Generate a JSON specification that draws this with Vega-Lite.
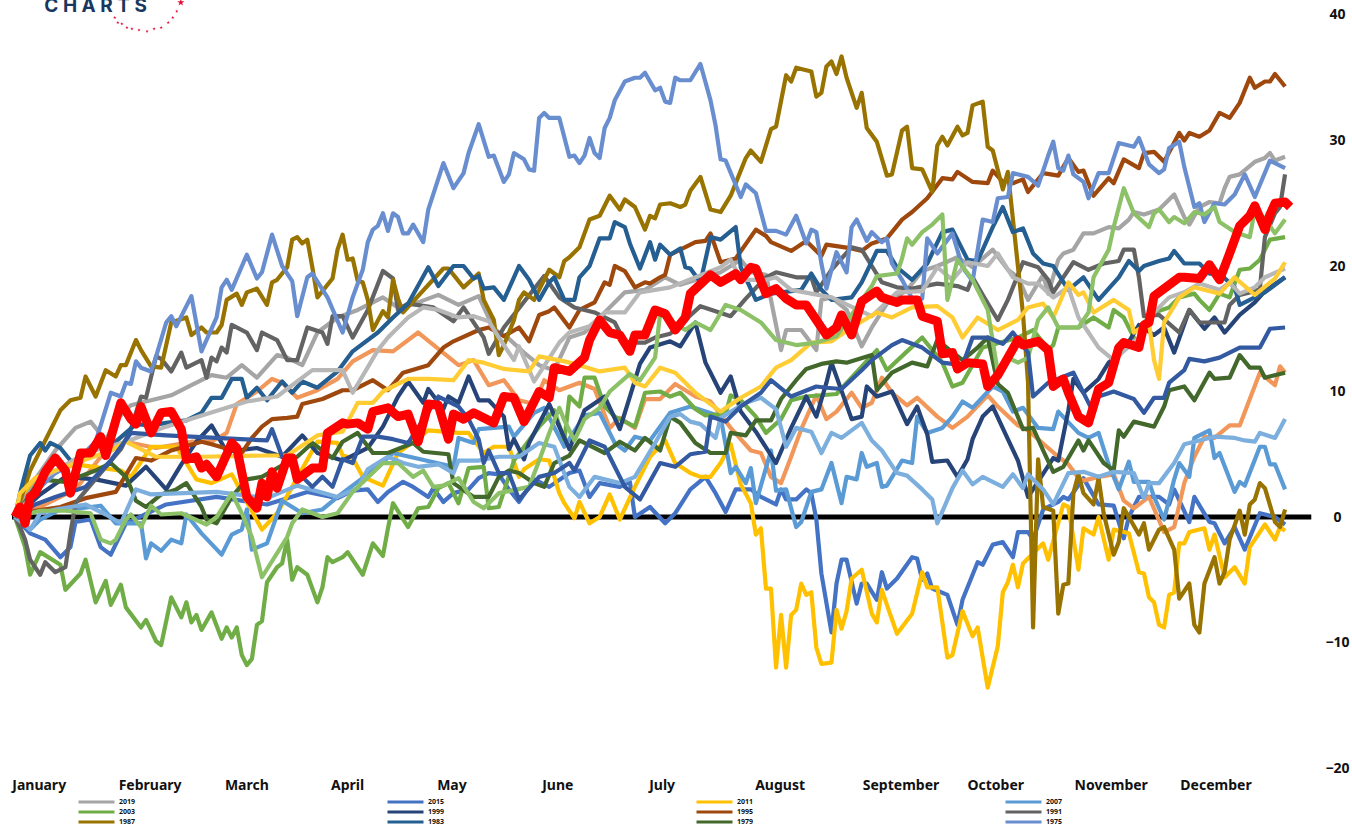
{"$schema":"https://vega.github.io/schema/vega-lite/v6.json","width":1352,"height":828,"autosize":"none","padding":0,"background":"white","config":{"view":{"stroke":null}},
"datasets":{
"zero":[{"a":-0.6,"b":257.2,"z":0}],
"months":[{"m":"January","d":4.8},{"m":"February","d":26.8},{"m":"March","d":46},{"m":"April","d":66},{"m":"May","d":86.7},{"m":"June","d":107.7},{"m":"July","d":128.4},{"m":"August","d":151.8},{"m":"September","d":175.8},{"m":"October","d":194.6},{"m":"November","d":217.5},{"m":"December","d":238.3}],
"logoText":[{"t":"C H A R T S","d":16,"v":40.2}],
"stars":[{"d":19.8,"v":39.8},{"d":20.4,"v":39.4},{"d":21.2,"v":39.3},{"d":22.2,"v":39},{"d":23.2,"v":38.9},{"d":24.6,"v":38.8},{"d":26.2,"v":38.7},{"d":27.6,"v":38.9},{"d":29,"v":39},{"d":30.4,"v":39.4},{"d":31.3,"v":39.8},{"d":32.1,"v":40.3}],
"bigStar":[{"d":32.9,"v":41}],
"years":[
{"s":"2015","d":0,"v":0},{"s":"2015","d":3,"v":-1.3},{"s":"2015","d":6,"v":-1.8},{"s":"2015","d":9,"v":-3.2},{"s":"2015","d":11,"v":-2.4},{"s":"2015","d":12,"v":-0.4},{"s":"2015","d":15,"v":-0.2},{"s":"2015","d":17,"v":-2.4},{"s":"2015","d":19,"v":-3},{"s":"2015","d":22,"v":-0.5},{"s":"2015","d":30,"v":1},{"s":"2015","d":40,"v":1.6},{"s":"2015","d":50,"v":1},{"s":"2015","d":58,"v":2},{"s":"2015","d":64,"v":1.5},{"s":"2015","d":67,"v":2.1},{"s":"2015","d":70,"v":2.2},{"s":"2015","d":72,"v":1.2},{"s":"2015","d":74,"v":2},{"s":"2015","d":77,"v":2.8},{"s":"2015","d":79,"v":2.4},{"s":"2015","d":82,"v":1.6},{"s":"2015","d":83,"v":2.3},{"s":"2015","d":85,"v":1.2},{"s":"2015","d":87,"v":1.9},{"s":"2015","d":90,"v":2.2},{"s":"2015","d":92,"v":3.1},{"s":"2015","d":94,"v":3.5},{"s":"2015","d":96,"v":3.4},{"s":"2015","d":98,"v":2.2},{"s":"2015","d":100,"v":1.2},{"s":"2015","d":103,"v":3},{"s":"2015","d":106,"v":2.4},{"s":"2015","d":110,"v":3.5},{"s":"2015","d":112,"v":3.7},{"s":"2015","d":114,"v":1.6},{"s":"2015","d":116,"v":2.7},{"s":"2015","d":120,"v":2.4},{"s":"2015","d":122,"v":2.8},{"s":"2015","d":123,"v":0},{"s":"2015","d":126,"v":0.8},{"s":"2015","d":129,"v":-0.5},{"s":"2015","d":131,"v":0.3},{"s":"2015","d":134,"v":2.2},{"s":"2015","d":137,"v":3.2},{"s":"2015","d":139,"v":1.9},{"s":"2015","d":141,"v":0.4},{"s":"2015","d":143,"v":2.2},{"s":"2015","d":146,"v":2.2},{"s":"2015","d":148,"v":1.6},{"s":"2015","d":151,"v":1},{"s":"2015","d":152,"v":2.2},{"s":"2015","d":153,"v":1.4},{"s":"2015","d":155,"v":1.4},{"s":"2015","d":157,"v":2.2},{"s":"2015","d":158,"v":1.9},{"s":"2015","d":159,"v":-0.2},{"s":"2015","d":160,"v":-4.5},{"s":"2015","d":162,"v":-9.2},{"s":"2015","d":163,"v":-5.3},{"s":"2015","d":164,"v":-3.4},{"s":"2015","d":165,"v":-3.4},{"s":"2015","d":167,"v":-6.9},{"s":"2015","d":168,"v":-5.3},{"s":"2015","d":169,"v":-5.3},{"s":"2015","d":171,"v":-6.6},{"s":"2015","d":172,"v":-4.4},{"s":"2015","d":173,"v":-5.7},{"s":"2015","d":175,"v":-4.9},{"s":"2015","d":178,"v":-3.2},{"s":"2015","d":179,"v":-3.3},{"s":"2015","d":180,"v":-5},{"s":"2015","d":181,"v":-4.5},{"s":"2015","d":182,"v":-5.7},{"s":"2015","d":185,"v":-6.2},{"s":"2015","d":187,"v":-8.6},{"s":"2015","d":188,"v":-6.6},{"s":"2015","d":191,"v":-3.6},{"s":"2015","d":192,"v":-3.8},{"s":"2015","d":194,"v":-2.2},{"s":"2015","d":196,"v":-2},{"s":"2015","d":198,"v":-3.2},{"s":"2015","d":199,"v":-1.2},{"s":"2015","d":201,"v":-1.2},{"s":"2015","d":202,"v":-1.8},{"s":"2015","d":204,"v":0.6},{"s":"2015","d":207,"v":1.2},{"s":"2015","d":208,"v":1.6},{"s":"2015","d":209,"v":1.4},{"s":"2015","d":212,"v":3.1},{"s":"2015","d":215,"v":1},{"s":"2015","d":218,"v":0.9},{"s":"2015","d":219,"v":-0.4},{"s":"2015","d":220,"v":-1.7},{"s":"2015","d":221,"v":0},{"s":"2015","d":223,"v":1.6},{"s":"2015","d":227,"v":1.6},{"s":"2015","d":229,"v":1},{"s":"2015","d":230,"v":2.2},{"s":"2015","d":233,"v":-0.4},{"s":"2015","d":234,"v":1.6},{"s":"2015","d":237,"v":-0.4},{"s":"2015","d":238,"v":-0.5},{"s":"2015","d":240,"v":-2.1},{"s":"2015","d":242,"v":-0.8},{"s":"2015","d":244,"v":-2.6},{"s":"2015","d":247,"v":0.3},{"s":"2015","d":250,"v":0},{"s":"2015","d":252,"v":-0.6},
{"s":"1971","d":0,"v":0},{"s":"1971","d":6,"v":1},{"s":"1971","d":12,"v":2.2},{"s":"1971","d":17,"v":4.8},{"s":"1971","d":22,"v":6},{"s":"1971","d":28,"v":5.5},{"s":"1971","d":35,"v":6},{"s":"1971","d":39,"v":6},{"s":"1971","d":42,"v":6.7},{"s":"1971","d":44,"v":9},{"s":"1971","d":48,"v":10},{"s":"1971","d":51,"v":11},{"s":"1971","d":53,"v":10.7},{"s":"1971","d":56,"v":9.5},{"s":"1971","d":60,"v":10.1},{"s":"1971","d":64,"v":11},{"s":"1971","d":67,"v":12.4},{"s":"1971","d":71,"v":13.3},{"s":"1971","d":75,"v":13.2},{"s":"1971","d":80,"v":14.7},{"s":"1971","d":84,"v":13.4},{"s":"1971","d":88,"v":12.1},{"s":"1971","d":91,"v":12.5},{"s":"1971","d":94,"v":10.5},{"s":"1971","d":97,"v":10.9},{"s":"1971","d":100,"v":9.3},{"s":"1971","d":103,"v":9},{"s":"1971","d":105,"v":10.9},{"s":"1971","d":108,"v":10.1},{"s":"1971","d":112,"v":10.7},{"s":"1971","d":115,"v":10.2},{"s":"1971","d":118,"v":7.1},{"s":"1971","d":120,"v":7.9},{"s":"1971","d":123,"v":7.1},{"s":"1971","d":125,"v":9.4},{"s":"1971","d":128,"v":9.4},{"s":"1971","d":131,"v":10.6},{"s":"1971","d":135,"v":9.6},{"s":"1971","d":138,"v":9.2},{"s":"1971","d":142,"v":7.1},{"s":"1971","d":146,"v":5.3},{"s":"1971","d":148,"v":5.1},{"s":"1971","d":150,"v":3.2},{"s":"1971","d":152,"v":2.7},{"s":"1971","d":154,"v":4.8},{"s":"1971","d":156,"v":7},{"s":"1971","d":159,"v":9.7},{"s":"1971","d":161,"v":7.8},{"s":"1971","d":163,"v":8.4},{"s":"1971","d":166,"v":9.9},{"s":"1971","d":168,"v":8.7},{"s":"1971","d":170,"v":9.1},{"s":"1971","d":172,"v":11.1},{"s":"1971","d":174,"v":9.9},{"s":"1971","d":177,"v":8.9},{"s":"1971","d":179,"v":9.5},{"s":"1971","d":183,"v":8},{"s":"1971","d":186,"v":7.1},{"s":"1971","d":189,"v":8},{"s":"1971","d":193,"v":9.7},{"s":"1971","d":195,"v":8.8},{"s":"1971","d":199,"v":7.3},{"s":"1971","d":201,"v":6.9},{"s":"1971","d":205,"v":5.5},{"s":"1971","d":207,"v":4.8},{"s":"1971","d":209,"v":4.2},{"s":"1971","d":211,"v":3.1},{"s":"1971","d":212,"v":2.9},{"s":"1971","d":215,"v":3.2},{"s":"1971","d":218,"v":3.4},{"s":"1971","d":220,"v":1.3},{"s":"1971","d":222,"v":0.7},{"s":"1971","d":225,"v":1.6},{"s":"1971","d":228,"v":-1.2},{"s":"1971","d":230,"v":-0.8},{"s":"1971","d":232,"v":2.7},{"s":"1971","d":234,"v":4.8},{"s":"1971","d":236,"v":6.4},{"s":"1971","d":238,"v":6.3},{"s":"1971","d":241,"v":7.3},{"s":"1971","d":243,"v":7.3},{"s":"1971","d":245,"v":9.4},{"s":"1971","d":247,"v":11.5},{"s":"1971","d":250,"v":10.5},{"s":"1971","d":251,"v":12},{"s":"1971","d":252,"v":11.5},
{"s":"2019","d":0,"v":0},{"s":"2019","d":4,"v":3},{"s":"2019","d":8,"v":5.3},{"s":"2019","d":12,"v":7.1},{"s":"2019","d":15,"v":7.6},{"s":"2019","d":18,"v":6.1},{"s":"2019","d":20,"v":7.7},{"s":"2019","d":23,"v":8.9},{"s":"2019","d":27,"v":9.3},{"s":"2019","d":31,"v":9.7},{"s":"2019","d":35,"v":10.5},{"s":"2019","d":39,"v":11.3},{"s":"2019","d":42,"v":11.1},{"s":"2019","d":45,"v":12.1},{"s":"2019","d":48,"v":11.1},{"s":"2019","d":52,"v":12.9},{"s":"2019","d":54,"v":12.7},{"s":"2019","d":57,"v":12.1},{"s":"2019","d":60,"v":14.7},{"s":"2019","d":64,"v":15.9},{"s":"2019","d":68,"v":16.5},{"s":"2019","d":73,"v":17.5},{"s":"2019","d":76,"v":16.7},{"s":"2019","d":80,"v":17.1},{"s":"2019","d":84,"v":17.7},{"s":"2019","d":88,"v":16.9},{"s":"2019","d":92,"v":17.6},{"s":"2019","d":95,"v":15},{"s":"2019","d":98,"v":14.2},{"s":"2019","d":101,"v":13.1},{"s":"2019","d":104,"v":12.1},{"s":"2019","d":107,"v":11.7},{"s":"2019","d":110,"v":14.3},{"s":"2019","d":113,"v":14.7},{"s":"2019","d":116,"v":15.9},{"s":"2019","d":121,"v":17.9},{"s":"2019","d":125,"v":18.1},{"s":"2019","d":129,"v":19.1},{"s":"2019","d":132,"v":18.5},{"s":"2019","d":140,"v":19.5},{"s":"2019","d":144,"v":20.5},{"s":"2019","d":146,"v":19.5},{"s":"2019","d":149,"v":19.3},{"s":"2019","d":152,"v":13.3},{"s":"2019","d":153,"v":14.9},{"s":"2019","d":156,"v":14.9},{"s":"2019","d":159,"v":13.3},{"s":"2019","d":160,"v":17.3},{"s":"2019","d":162,"v":17.5},{"s":"2019","d":165,"v":16.5},{"s":"2019","d":168,"v":13.6},{"s":"2019","d":170,"v":15.1},{"s":"2019","d":173,"v":17},{"s":"2019","d":177,"v":18.1},{"s":"2019","d":180,"v":19.6},{"s":"2019","d":183,"v":20},{"s":"2019","d":187,"v":20.7},{"s":"2019","d":190,"v":19.9},{"s":"2019","d":194,"v":21.3},{"s":"2019","d":197,"v":19.7},{"s":"2019","d":199,"v":19.1},{"s":"2019","d":201,"v":17.3},{"s":"2019","d":204,"v":19.3},{"s":"2019","d":205,"v":17.8},{"s":"2019","d":207,"v":20.5},{"s":"2019","d":208,"v":21},{"s":"2019","d":210,"v":21.3},{"s":"2019","d":212,"v":22.6},{"s":"2019","d":214,"v":22.6},{"s":"2019","d":217,"v":23.1},{"s":"2019","d":219,"v":23},{"s":"2019","d":221,"v":23.7},{"s":"2019","d":222,"v":24.3},{"s":"2019","d":224,"v":24.1},{"s":"2019","d":227,"v":24.5},{"s":"2019","d":230,"v":25.7},{"s":"2019","d":232,"v":23.9},{"s":"2019","d":233,"v":23.3},{"s":"2019","d":235,"v":24.7},{"s":"2019","d":237,"v":25.1},{"s":"2019","d":239,"v":25},{"s":"2019","d":240,"v":26.2},{"s":"2019","d":241,"v":27.1},{"s":"2019","d":243,"v":27.3},{"s":"2019","d":246,"v":28.3},{"s":"2019","d":248,"v":28.6},{"s":"2019","d":249,"v":29},{"s":"2019","d":250,"v":28.4},{"s":"2019","d":252,"v":28.7},
{"s":"2011","d":0,"v":0},{"s":"2011","d":1,"v":1.6},{"s":"2011","d":4,"v":3.1},{"s":"2011","d":12,"v":4.2},{"s":"2011","d":21,"v":3.7},{"s":"2011","d":23,"v":3.2},{"s":"2011","d":27,"v":5.6},{"s":"2011","d":32,"v":5.6},{"s":"2011","d":36,"v":3},{"s":"2011","d":39,"v":2.7},{"s":"2011","d":43,"v":3.4},{"s":"2011","d":49,"v":-1},{"s":"2011","d":52,"v":0.3},{"s":"2011","d":55,"v":2.4},{"s":"2011","d":60,"v":6},{"s":"2011","d":64,"v":5.9},{"s":"2011","d":65,"v":4.9},{"s":"2011","d":67,"v":4.7},{"s":"2011","d":69,"v":3.2},{"s":"2011","d":73,"v":2.5},{"s":"2011","d":76,"v":5.1},{"s":"2011","d":82,"v":6.9},{"s":"2011","d":88,"v":6.7},{"s":"2011","d":90,"v":6.7},{"s":"2011","d":93,"v":5.1},{"s":"2011","d":95,"v":5.6},{"s":"2011","d":98,"v":5.6},{"s":"2011","d":100,"v":3.2},{"s":"2011","d":101,"v":3.8},{"s":"2011","d":104,"v":4.6},{"s":"2011","d":106,"v":4.5},{"s":"2011","d":108,"v":1.9},{"s":"2011","d":109,"v":1.1},{"s":"2011","d":111,"v":-0.1},{"s":"2011","d":112,"v":1.2},{"s":"2011","d":114,"v":-0.5},{"s":"2011","d":116,"v":0},{"s":"2011","d":118,"v":1.8},{"s":"2011","d":120,"v":-0.2},{"s":"2011","d":123,"v":2.4},{"s":"2011","d":126,"v":4.8},{"s":"2011","d":129,"v":6.1},{"s":"2011","d":131,"v":4.3},{"s":"2011","d":134,"v":3.5},{"s":"2011","d":136,"v":3.2},{"s":"2011","d":138,"v":3.2},{"s":"2011","d":140,"v":4.3},{"s":"2011","d":142,"v":5.8},{"s":"2011","d":144,"v":2.6},{"s":"2011","d":146,"v":1.1},{"s":"2011","d":147,"v":-1.4},{"s":"2011","d":148,"v":-0.9},{"s":"2011","d":149,"v":-5.7},{"s":"2011","d":150,"v":-5.7},{"s":"2011","d":151,"v":-12},{"s":"2011","d":152,"v":-7.8},{"s":"2011","d":153,"v":-12},{"s":"2011","d":154,"v":-7.8},{"s":"2011","d":155,"v":-7.4},{"s":"2011","d":156,"v":-5.3},{"s":"2011","d":157,"v":-6.2},{"s":"2011","d":158,"v":-6},{"s":"2011","d":159,"v":-10.4},{"s":"2011","d":160,"v":-11.7},{"s":"2011","d":162,"v":-11.6},{"s":"2011","d":163,"v":-7.4},{"s":"2011","d":164,"v":-8.9},{"s":"2011","d":165,"v":-7.5},{"s":"2011","d":166,"v":-4.9},{"s":"2011","d":168,"v":-4.2},{"s":"2011","d":170,"v":-7.7},{"s":"2011","d":171,"v":-8.4},{"s":"2011","d":172,"v":-5.8},{"s":"2011","d":173,"v":-7},{"s":"2011","d":175,"v":-9.3},{"s":"2011","d":178,"v":-7.7},{"s":"2011","d":180,"v":-4.4},{"s":"2011","d":181,"v":-5.6},{"s":"2011","d":183,"v":-5.6},{"s":"2011","d":185,"v":-11.2},{"s":"2011","d":186,"v":-11},{"s":"2011","d":188,"v":-7.5},{"s":"2011","d":190,"v":-9.5},{"s":"2011","d":191,"v":-8.8},{"s":"2011","d":193,"v":-13.6},{"s":"2011","d":195,"v":-10.3},{"s":"2011","d":196,"v":-6},{"s":"2011","d":197,"v":-5.2},{"s":"2011","d":198,"v":-3.8},{"s":"2011","d":199,"v":-5.6},{"s":"2011","d":200,"v":-3.7},{"s":"2011","d":204,"v":-2.1},{"s":"2011","d":205,"v":-3.4},{"s":"2011","d":208,"v":1},{"s":"2011","d":209,"v":0.8},{"s":"2011","d":211,"v":-4.2},{"s":"2011","d":212,"v":-0.9},{"s":"2011","d":214,"v":-1.4},{"s":"2011","d":215,"v":0},{"s":"2011","d":217,"v":-3.4},{"s":"2011","d":218,"v":-1},{"s":"2011","d":221,"v":-1.3},{"s":"2011","d":223,"v":-4.4},{"s":"2011","d":224,"v":-4.5},{"s":"2011","d":225,"v":-6.4},{"s":"2011","d":226,"v":-6.8},{"s":"2011","d":227,"v":-8.6},{"s":"2011","d":228,"v":-8.8},{"s":"2011","d":229,"v":-6.2},{"s":"2011","d":230,"v":-6},{"s":"2011","d":231,"v":-2.1},{"s":"2011","d":232,"v":-2.1},{"s":"2011","d":233,"v":-1.2},{"s":"2011","d":236,"v":-0.9},{"s":"2011","d":237,"v":-2.6},{"s":"2011","d":238,"v":-1.4},{"s":"2011","d":240,"v":-4.8},{"s":"2011","d":242,"v":-4},{"s":"2011","d":244,"v":-5.3},{"s":"2011","d":245,"v":-2.4},{"s":"2011","d":248,"v":-0.6},{"s":"2011","d":250,"v":-1.8},{"s":"2011","d":251,"v":-0.8},{"s":"2011","d":252,"v":-1.1},
{"s":"2007","d":0,"v":0},{"s":"2007","d":3,"v":-1},{"s":"2007","d":5,"v":-0.2},{"s":"2007","d":10,"v":0.8},{"s":"2007","d":13,"v":0.7},{"s":"2007","d":17,"v":0.9},{"s":"2007","d":20,"v":-0.5},{"s":"2007","d":25,"v":-0.5},{"s":"2007","d":26,"v":-3.3},{"s":"2007","d":27,"v":-2.1},{"s":"2007","d":29,"v":-2.7},{"s":"2007","d":31,"v":-1.8},{"s":"2007","d":33,"v":-2.1},{"s":"2007","d":34,"v":0.2},{"s":"2007","d":37,"v":-1.3},{"s":"2007","d":41,"v":-3},{"s":"2007","d":43,"v":-1.4},{"s":"2007","d":45,"v":-1},{"s":"2007","d":46,"v":0.6},{"s":"2007","d":47,"v":-2.6},{"s":"2007","d":50,"v":-2.1},{"s":"2007","d":53,"v":1.3},{"s":"2007","d":57,"v":0.3},{"s":"2007","d":61,"v":0.6},{"s":"2007","d":64,"v":1.6},{"s":"2007","d":72,"v":4},{"s":"2007","d":75,"v":5.1},{"s":"2007","d":87,"v":4},{"s":"2007","d":88,"v":6.3},{"s":"2007","d":91,"v":5.9},{"s":"2007","d":92,"v":7},{"s":"2007","d":98,"v":7.2},{"s":"2007","d":99,"v":6.4},{"s":"2007","d":103,"v":8.3},{"s":"2007","d":105,"v":8.7},{"s":"2007","d":109,"v":5.6},{"s":"2007","d":113,"v":8.1},{"s":"2007","d":116,"v":8.3},{"s":"2007","d":119,"v":5.9},{"s":"2007","d":121,"v":5.3},{"s":"2007","d":123,"v":6.4},{"s":"2007","d":126,"v":6.1},{"s":"2007","d":130,"v":8.3},{"s":"2007","d":134,"v":8.8},{"s":"2007","d":140,"v":8},{"s":"2007","d":142,"v":3.5},{"s":"2007","d":143,"v":4},{"s":"2007","d":145,"v":2.7},{"s":"2007","d":146,"v":3.9},{"s":"2007","d":147,"v":1.1},{"s":"2007","d":150,"v":5.3},{"s":"2007","d":151,"v":2.1},{"s":"2007","d":153,"v":2.2},{"s":"2007","d":155,"v":-0.8},{"s":"2007","d":156,"v":-0.4},{"s":"2007","d":158,"v":2},{"s":"2007","d":160,"v":2.2},{"s":"2007","d":162,"v":4.3},{"s":"2007","d":164,"v":1.1},{"s":"2007","d":165,"v":3.2},{"s":"2007","d":167,"v":3},{"s":"2007","d":168,"v":5.1},{"s":"2007","d":169,"v":4},{"s":"2007","d":171,"v":4.3},{"s":"2007","d":172,"v":2.4},{"s":"2007","d":173,"v":2.5},{"s":"2007","d":176,"v":4.5},{"s":"2007","d":178,"v":4.3},{"s":"2007","d":179,"v":8},{"s":"2007","d":181,"v":6.7},{"s":"2007","d":184,"v":7.1},{"s":"2007","d":186,"v":8},{"s":"2007","d":188,"v":9.2},{"s":"2007","d":190,"v":8.7},{"s":"2007","d":194,"v":10.4},{"s":"2007","d":196,"v":10},{"s":"2007","d":198,"v":8.4},{"s":"2007","d":200,"v":8.7},{"s":"2007","d":203,"v":7.1},{"s":"2007","d":206,"v":7},{"s":"2007","d":207,"v":8.4},{"s":"2007","d":211,"v":6.7},{"s":"2007","d":213,"v":6.3},{"s":"2007","d":215,"v":6.7},{"s":"2007","d":217,"v":4.2},{"s":"2007","d":219,"v":2.2},{"s":"2007","d":221,"v":4.4},{"s":"2007","d":222,"v":2.8},{"s":"2007","d":225,"v":2.8},{"s":"2007","d":226,"v":1.6},{"s":"2007","d":228,"v":-0.2},{"s":"2007","d":230,"v":3},{"s":"2007","d":231,"v":4.3},{"s":"2007","d":233,"v":3.2},{"s":"2007","d":234,"v":6.3},{"s":"2007","d":237,"v":6.9},{"s":"2007","d":238,"v":4.7},{"s":"2007","d":239,"v":5.1},{"s":"2007","d":242,"v":2},{"s":"2007","d":243,"v":2.8},{"s":"2007","d":244,"v":2.5},{"s":"2007","d":247,"v":5.6},{"s":"2007","d":248,"v":5.6},{"s":"2007","d":249,"v":4.2},{"s":"2007","d":250,"v":4.2},{"s":"2007","d":252,"v":2.2},
{"s":"2003","d":0,"v":0},{"s":"2003","d":2,"v":-2.4},{"s":"2003","d":3,"v":-4.6},{"s":"2003","d":5,"v":-2.8},{"s":"2003","d":9,"v":-3.8},{"s":"2003","d":10,"v":-5.8},{"s":"2003","d":13,"v":-4.5},{"s":"2003","d":14,"v":-3.4},{"s":"2003","d":16,"v":-6.8},{"s":"2003","d":18,"v":-5.1},{"s":"2003","d":19,"v":-7},{"s":"2003","d":21,"v":-5.4},{"s":"2003","d":22,"v":-7.2},{"s":"2003","d":25,"v":-8.8},{"s":"2003","d":26,"v":-8.2},{"s":"2003","d":28,"v":-9.9},{"s":"2003","d":29,"v":-10.2},{"s":"2003","d":31,"v":-6.4},{"s":"2003","d":33,"v":-8},{"s":"2003","d":34,"v":-6.8},{"s":"2003","d":35,"v":-8.4},{"s":"2003","d":36,"v":-7.8},{"s":"2003","d":37,"v":-9},{"s":"2003","d":39,"v":-7.6},{"s":"2003","d":41,"v":-9.7},{"s":"2003","d":42,"v":-8.8},{"s":"2003","d":43,"v":-9.6},{"s":"2003","d":44,"v":-8.8},{"s":"2003","d":45,"v":-11},{"s":"2003","d":46,"v":-11.8},{"s":"2003","d":47,"v":-11.3},{"s":"2003","d":48,"v":-8.6},{"s":"2003","d":49,"v":-8.3},{"s":"2003","d":50,"v":-5.2},{"s":"2003","d":52,"v":-4},{"s":"2003","d":53,"v":-3.7},{"s":"2003","d":54,"v":-1.8},{"s":"2003","d":55,"v":-5},{"s":"2003","d":56,"v":-4},{"s":"2003","d":58,"v":-4.6},{"s":"2003","d":60,"v":-6.8},{"s":"2003","d":61,"v":-5.6},{"s":"2003","d":62,"v":-3.2},{"s":"2003","d":63,"v":-3.6},{"s":"2003","d":65,"v":-3.2},{"s":"2003","d":66,"v":-2.8},{"s":"2003","d":69,"v":-4.6},{"s":"2003","d":71,"v":-2.1},{"s":"2003","d":73,"v":-3.1},{"s":"2003","d":74,"v":-0.9},{"s":"2003","d":75,"v":1.1},{"s":"2003","d":78,"v":-0.8},{"s":"2003","d":80,"v":0.7},{"s":"2003","d":82,"v":0.8},{"s":"2003","d":84,"v":2.3},{"s":"2003","d":86,"v":2.7},{"s":"2003","d":88,"v":1.1},{"s":"2003","d":90,"v":3.9},{"s":"2003","d":93,"v":4},{"s":"2003","d":94,"v":0.7},{"s":"2003","d":96,"v":0.8},{"s":"2003","d":99,"v":4.5},{"s":"2003","d":104,"v":7.2},{"s":"2003","d":107,"v":8.5},{"s":"2003","d":109,"v":6.1},{"s":"2003","d":110,"v":9.6},{"s":"2003","d":112,"v":8.8},{"s":"2003","d":113,"v":11.1},{"s":"2003","d":115,"v":11.1},{"s":"2003","d":117,"v":8.8},{"s":"2003","d":119,"v":8},{"s":"2003","d":123,"v":7.2},{"s":"2003","d":125,"v":9.9},{"s":"2003","d":128,"v":10},{"s":"2003","d":130,"v":9.6},{"s":"2003","d":132,"v":9.9},{"s":"2003","d":135,"v":8.6},{"s":"2003","d":137,"v":8.1},{"s":"2003","d":141,"v":8.2},{"s":"2003","d":142,"v":9.7},{"s":"2003","d":144,"v":9.3},{"s":"2003","d":147,"v":8},{"s":"2003","d":149,"v":6.7},{"s":"2003","d":152,"v":7.8},{"s":"2003","d":154,"v":9.3},{"s":"2003","d":157,"v":9.6},{"s":"2003","d":163,"v":9.8},{"s":"2003","d":171,"v":13.3},{"s":"2003","d":173,"v":11.7},{"s":"2003","d":177,"v":13.2},{"s":"2003","d":180,"v":14.3},{"s":"2003","d":184,"v":12.3},{"s":"2003","d":186,"v":10.4},{"s":"2003","d":188,"v":10.7},{"s":"2003","d":192,"v":13.5},{"s":"2003","d":199,"v":14.3},{"s":"2003","d":202,"v":14.9},{"s":"2003","d":204,"v":13.9},{"s":"2003","d":205,"v":13.3},{"s":"2003","d":206,"v":13.7},{"s":"2003","d":207,"v":15.1},{"s":"2003","d":211,"v":15.1},{"s":"2003","d":214,"v":15.9},{"s":"2003","d":217,"v":15.1},{"s":"2003","d":218,"v":16.5},{"s":"2003","d":220,"v":15.9},{"s":"2003","d":222,"v":14.3},{"s":"2003","d":223,"v":13.5},{"s":"2003","d":224,"v":15.5},{"s":"2003","d":226,"v":16.3},{"s":"2003","d":229,"v":16.7},{"s":"2003","d":231,"v":17.5},{"s":"2003","d":234,"v":17.8},{"s":"2003","d":235,"v":17.3},{"s":"2003","d":237,"v":16.5},{"s":"2003","d":239,"v":17.8},{"s":"2003","d":241,"v":17.5},{"s":"2003","d":243,"v":19.7},{"s":"2003","d":245,"v":19.8},{"s":"2003","d":247,"v":20.5},{"s":"2003","d":249,"v":22.1},{"s":"2003","d":252,"v":22.3},
{"s":"1999","d":0,"v":0},{"s":"1999","d":5,"v":1.8},{"s":"1999","d":10,"v":3.2},{"s":"1999","d":16,"v":3},{"s":"1999","d":22,"v":2.5},{"s":"1999","d":26,"v":4},{"s":"1999","d":30,"v":2.2},{"s":"1999","d":33,"v":4.2},{"s":"1999","d":36,"v":6},{"s":"1999","d":39,"v":7.3},{"s":"1999","d":42,"v":5.2},{"s":"1999","d":48,"v":5.5},{"s":"1999","d":53,"v":4.8},{"s":"1999","d":57,"v":6.5},{"s":"1999","d":60,"v":5.1},{"s":"1999","d":65,"v":4.5},{"s":"1999","d":70,"v":5.5},{"s":"1999","d":73,"v":7.2},{"s":"1999","d":76,"v":9.6},{"s":"1999","d":78,"v":10.8},{"s":"1999","d":81,"v":9.1},{"s":"1999","d":82,"v":10.2},{"s":"1999","d":85,"v":8.6},{"s":"1999","d":86,"v":9.6},{"s":"1999","d":88,"v":9.1},{"s":"1999","d":90,"v":11.2},{"s":"1999","d":92,"v":9.3},{"s":"1999","d":94,"v":9.3},{"s":"1999","d":97,"v":8},{"s":"1999","d":98,"v":5.4},{"s":"1999","d":99,"v":6.2},{"s":"1999","d":101,"v":4.6},{"s":"1999","d":102,"v":5.9},{"s":"1999","d":106,"v":9},{"s":"1999","d":110,"v":5.4},{"s":"1999","d":113,"v":8.5},{"s":"1999","d":117,"v":9.6},{"s":"1999","d":120,"v":7},{"s":"1999","d":122,"v":9.6},{"s":"1999","d":124,"v":12.2},{"s":"1999","d":126,"v":13.5},{"s":"1999","d":130,"v":14},{"s":"1999","d":132,"v":13.6},{"s":"1999","d":135,"v":15.5},{"s":"1999","d":137,"v":12.3},{"s":"1999","d":140,"v":9.9},{"s":"1999","d":142,"v":11.2},{"s":"1999","d":144,"v":8.4},{"s":"1999","d":147,"v":6.8},{"s":"1999","d":151,"v":4.3},{"s":"1999","d":154,"v":7.1},{"s":"1999","d":157,"v":9.6},{"s":"1999","d":159,"v":8},{"s":"1999","d":161,"v":10.7},{"s":"1999","d":162,"v":12.3},{"s":"1999","d":166,"v":7.8},{"s":"1999","d":168,"v":8},{"s":"1999","d":169,"v":10.4},{"s":"1999","d":171,"v":9.6},{"s":"1999","d":174,"v":10},{"s":"1999","d":177,"v":7.4},{"s":"1999","d":179,"v":8.8},{"s":"1999","d":181,"v":6.6},{"s":"1999","d":182,"v":4.4},{"s":"1999","d":185,"v":4.5},{"s":"1999","d":187,"v":3.2},{"s":"1999","d":189,"v":4.6},{"s":"1999","d":190,"v":6.2},{"s":"1999","d":192,"v":8},{"s":"1999","d":194,"v":8.8},{"s":"1999","d":197,"v":6.2},{"s":"1999","d":199,"v":4.5},{"s":"1999","d":201,"v":1.6},{"s":"1999","d":202,"v":2.2},{"s":"1999","d":206,"v":4.7},{"s":"1999","d":207,"v":4.5},{"s":"1999","d":209,"v":8.5},{"s":"1999","d":210,"v":11},{"s":"1999","d":212,"v":9.9},{"s":"1999","d":215,"v":11},{"s":"1999","d":217,"v":12.3},{"s":"1999","d":220,"v":13.3},{"s":"1999","d":223,"v":15.3},{"s":"1999","d":226,"v":14.5},{"s":"1999","d":228,"v":15.1},{"s":"1999","d":230,"v":13.1},{"s":"1999","d":233,"v":16.5},{"s":"1999","d":236,"v":15},{"s":"1999","d":238,"v":15.9},{"s":"1999","d":240,"v":14.7},{"s":"1999","d":243,"v":16.1},{"s":"1999","d":246,"v":17.1},{"s":"1999","d":248,"v":18},{"s":"1999","d":252,"v":19.1},
{"s":"1995","d":0,"v":0},{"s":"1995","d":4,"v":0.5},{"s":"1995","d":9,"v":0.8},{"s":"1995","d":14,"v":1.5},{"s":"1995","d":20,"v":2},{"s":"1995","d":24,"v":4.7},{"s":"1995","d":27,"v":4.5},{"s":"1995","d":31,"v":5.3},{"s":"1995","d":37,"v":6},{"s":"1995","d":39,"v":5.8},{"s":"1995","d":45,"v":5.1},{"s":"1995","d":47,"v":6.3},{"s":"1995","d":49,"v":7.2},{"s":"1995","d":51,"v":7.8},{"s":"1995","d":54,"v":7.9},{"s":"1995","d":56,"v":8},{"s":"1995","d":57,"v":9},{"s":"1995","d":61,"v":9.4},{"s":"1995","d":65,"v":10.1},{"s":"1995","d":67,"v":10.1},{"s":"1995","d":71,"v":10.9},{"s":"1995","d":74,"v":10.1},{"s":"1995","d":77,"v":11.5},{"s":"1995","d":82,"v":12.1},{"s":"1995","d":85,"v":13.5},{"s":"1995","d":87,"v":14},{"s":"1995","d":92,"v":14.9},{"s":"1995","d":94,"v":15.1},{"s":"1995","d":97,"v":14.4},{"s":"1995","d":100,"v":15.1},{"s":"1995","d":102,"v":14},{"s":"1995","d":104,"v":16.1},{"s":"1995","d":106,"v":16.4},{"s":"1995","d":107,"v":16.7},{"s":"1995","d":110,"v":15.1},{"s":"1995","d":112,"v":16.5},{"s":"1995","d":115,"v":17.1},{"s":"1995","d":117,"v":18.7},{"s":"1995","d":118,"v":18.5},{"s":"1995","d":119,"v":20},{"s":"1995","d":121,"v":19.6},{"s":"1995","d":123,"v":18.3},{"s":"1995","d":125,"v":18.7},{"s":"1995","d":126,"v":18.6},{"s":"1995","d":128,"v":19.1},{"s":"1995","d":129,"v":19.3},{"s":"1995","d":130,"v":20.9},{"s":"1995","d":132,"v":21.3},{"s":"1995","d":135,"v":21.9},{"s":"1995","d":137,"v":22},{"s":"1995","d":138,"v":22.6},{"s":"1995","d":140,"v":20.3},{"s":"1995","d":143,"v":20.6},{"s":"1995","d":147,"v":22.9},{"s":"1995","d":149,"v":22.4},{"s":"1995","d":150,"v":21.9},{"s":"1995","d":154,"v":21.2},{"s":"1995","d":157,"v":22},{"s":"1995","d":160,"v":20.8},{"s":"1995","d":161,"v":21.7},{"s":"1995","d":166,"v":21.4},{"s":"1995","d":168,"v":21.2},{"s":"1995","d":170,"v":21.8},{"s":"1995","d":173,"v":22.2},{"s":"1995","d":176,"v":23.7},{"s":"1995","d":178,"v":24.3},{"s":"1995","d":181,"v":25.4},{"s":"1995","d":184,"v":27},{"s":"1995","d":186,"v":26.9},{"s":"1995","d":187,"v":27.5},{"s":"1995","d":190,"v":26.7},{"s":"1995","d":193,"v":26.6},{"s":"1995","d":194,"v":27.6},{"s":"1995","d":196,"v":26.7},{"s":"1995","d":197,"v":26.8},{"s":"1995","d":198,"v":26.6},{"s":"1995","d":200,"v":26.9},{"s":"1995","d":201,"v":25.9},{"s":"1995","d":204,"v":27.4},{"s":"1995","d":207,"v":27.2},{"s":"1995","d":209,"v":28.6},{"s":"1995","d":211,"v":27.5},{"s":"1995","d":212,"v":27.6},{"s":"1995","d":214,"v":25.6},{"s":"1995","d":217,"v":27},{"s":"1995","d":218,"v":26.6},{"s":"1995","d":220,"v":28.5},{"s":"1995","d":223,"v":27.8},{"s":"1995","d":224,"v":29},{"s":"1995","d":226,"v":29.1},{"s":"1995","d":228,"v":28.3},{"s":"1995","d":231,"v":30.6},{"s":"1995","d":232,"v":30},{"s":"1995","d":233,"v":30.6},{"s":"1995","d":235,"v":30.3},{"s":"1995","d":237,"v":30.8},{"s":"1995","d":239,"v":32.2},{"s":"1995","d":241,"v":31.8},{"s":"1995","d":243,"v":33},{"s":"1995","d":245,"v":35},{"s":"1995","d":246,"v":34.2},{"s":"1995","d":248,"v":34.7},{"s":"1995","d":249,"v":34.7},{"s":"1995","d":250,"v":35.3},{"s":"1995","d":252,"v":34.3},
{"s":"1991","d":0,"v":0},{"s":"1991","d":1,"v":-0.8},{"s":"1991","d":2,"v":-1.8},{"s":"1991","d":3,"v":-3.4},{"s":"1991","d":5,"v":-4.6},{"s":"1991","d":6,"v":-3.6},{"s":"1991","d":8,"v":-4.4},{"s":"1991","d":10,"v":-4},{"s":"1991","d":11,"v":-1.3},{"s":"1991","d":12,"v":1.1},{"s":"1991","d":13,"v":1.6},{"s":"1991","d":21,"v":5.4},{"s":"1991","d":23,"v":7},{"s":"1991","d":25,"v":9.6},{"s":"1991","d":26,"v":9.5},{"s":"1991","d":28,"v":12.8},{"s":"1991","d":29,"v":12.6},{"s":"1991","d":31,"v":11.6},{"s":"1991","d":33,"v":13.1},{"s":"1991","d":34,"v":11.9},{"s":"1991","d":37,"v":12.5},{"s":"1991","d":38,"v":11.1},{"s":"1991","d":39,"v":12.7},{"s":"1991","d":40,"v":12.4},{"s":"1991","d":41,"v":13.5},{"s":"1991","d":42,"v":13.1},{"s":"1991","d":43,"v":15.3},{"s":"1991","d":46,"v":14.7},{"s":"1991","d":48,"v":13.3},{"s":"1991","d":49,"v":14.7},{"s":"1991","d":52,"v":14.1},{"s":"1991","d":54,"v":12.5},{"s":"1991","d":56,"v":12.5},{"s":"1991","d":58,"v":15.1},{"s":"1991","d":61,"v":14.7},{"s":"1991","d":62,"v":13.8},{"s":"1991","d":63,"v":16},{"s":"1991","d":65,"v":16},{"s":"1991","d":67,"v":14.3},{"s":"1991","d":70,"v":16.5},{"s":"1991","d":73,"v":19.6},{"s":"1991","d":75,"v":19},{"s":"1991","d":76,"v":16.5},{"s":"1991","d":78,"v":17},{"s":"1991","d":83,"v":16.7},{"s":"1991","d":87,"v":15.6},{"s":"1991","d":89,"v":16.7},{"s":"1991","d":93,"v":14.3},{"s":"1991","d":94,"v":13},{"s":"1991","d":97,"v":15.1},{"s":"1991","d":105,"v":19.2},{"s":"1991","d":108,"v":17.5},{"s":"1991","d":111,"v":16.7},{"s":"1991","d":115,"v":16.3},{"s":"1991","d":119,"v":15.5},{"s":"1991","d":121,"v":13.9},{"s":"1991","d":125,"v":13.9},{"s":"1991","d":127,"v":14.3},{"s":"1991","d":130,"v":14.6},{"s":"1991","d":136,"v":16.8},{"s":"1991","d":142,"v":16},{"s":"1991","d":145,"v":17.4},{"s":"1991","d":149,"v":19.1},{"s":"1991","d":151,"v":19.5},{"s":"1991","d":155,"v":19.1},{"s":"1991","d":158,"v":19.1},{"s":"1991","d":159,"v":17.9},{"s":"1991","d":162,"v":19.7},{"s":"1991","d":166,"v":21.5},{"s":"1991","d":168,"v":21.3},{"s":"1991","d":170,"v":20},{"s":"1991","d":172,"v":18.7},{"s":"1991","d":175,"v":18.3},{"s":"1991","d":178,"v":18.2},{"s":"1991","d":183,"v":18.6},{"s":"1991","d":187,"v":18.4},{"s":"1991","d":189,"v":18.1},{"s":"1991","d":190,"v":19.1},{"s":"1991","d":192,"v":17.7},{"s":"1991","d":195,"v":15.7},{"s":"1991","d":197,"v":17.3},{"s":"1991","d":200,"v":20.3},{"s":"1991","d":203,"v":19.9},{"s":"1991","d":205,"v":18.9},{"s":"1991","d":206,"v":17.9},{"s":"1991","d":209,"v":19.7},{"s":"1991","d":210,"v":20.3},{"s":"1991","d":213,"v":19.7},{"s":"1991","d":216,"v":20.2},{"s":"1991","d":219,"v":20.4},{"s":"1991","d":220,"v":21.3},{"s":"1991","d":222,"v":21.3},{"s":"1991","d":223,"v":19.1},{"s":"1991","d":224,"v":16},{"s":"1991","d":227,"v":16.1},{"s":"1991","d":231,"v":14.7},{"s":"1991","d":233,"v":16.5},{"s":"1991","d":235,"v":15.5},{"s":"1991","d":240,"v":15.5},{"s":"1991","d":241,"v":16.9},{"s":"1991","d":243,"v":17.7},{"s":"1991","d":246,"v":18},{"s":"1991","d":247,"v":18.2},{"s":"1991","d":248,"v":22.3},{"s":"1991","d":250,"v":24.2},{"s":"1991","d":251,"v":24.7},{"s":"1991","d":252,"v":27.3},
{"s":"1987","d":0,"v":0},{"s":"1987","d":3,"v":3.7},{"s":"1987","d":6,"v":6.1},{"s":"1987","d":9,"v":8.5},{"s":"1987","d":11,"v":9.3},{"s":"1987","d":13,"v":9.5},{"s":"1987","d":14,"v":11.2},{"s":"1987","d":16,"v":9.6},{"s":"1987","d":18,"v":11.7},{"s":"1987","d":20,"v":11.2},{"s":"1987","d":21,"v":12.1},{"s":"1987","d":22,"v":12.1},{"s":"1987","d":24,"v":14.1},{"s":"1987","d":25,"v":13.3},{"s":"1987","d":27,"v":12},{"s":"1987","d":29,"v":11.9},{"s":"1987","d":31,"v":15.5},{"s":"1987","d":34,"v":15.9},{"s":"1987","d":35,"v":14.5},{"s":"1987","d":37,"v":15.1},{"s":"1987","d":38,"v":14.7},{"s":"1987","d":40,"v":14.7},{"s":"1987","d":41,"v":15.3},{"s":"1987","d":42,"v":17.3},{"s":"1987","d":44,"v":17.8},{"s":"1987","d":45,"v":16.9},{"s":"1987","d":46,"v":17.9},{"s":"1987","d":48,"v":18.2},{"s":"1987","d":50,"v":16.9},{"s":"1987","d":51,"v":18.7},{"s":"1987","d":52,"v":18.9},{"s":"1987","d":54,"v":19.9},{"s":"1987","d":55,"v":22.1},{"s":"1987","d":56,"v":22.3},{"s":"1987","d":57,"v":21.8},{"s":"1987","d":58,"v":22.1},{"s":"1987","d":59,"v":19.9},{"s":"1987","d":60,"v":17.5},{"s":"1987","d":63,"v":19},{"s":"1987","d":64,"v":21.3},{"s":"1987","d":65,"v":22.5},{"s":"1987","d":66,"v":20.5},{"s":"1987","d":67,"v":20.6},{"s":"1987","d":68,"v":18.8},{"s":"1987","d":69,"v":18.7},{"s":"1987","d":70,"v":17.3},{"s":"1987","d":71,"v":14.9},{"s":"1987","d":73,"v":16.4},{"s":"1987","d":74,"v":15.9},{"s":"1987","d":75,"v":18.9},{"s":"1987","d":76,"v":17.4},{"s":"1987","d":77,"v":16.3},{"s":"1987","d":85,"v":19.8},{"s":"1987","d":86,"v":19.8},{"s":"1987","d":89,"v":18.3},{"s":"1987","d":92,"v":19.4},{"s":"1987","d":93,"v":17.3},{"s":"1987","d":95,"v":15.7},{"s":"1987","d":96,"v":12.9},{"s":"1987","d":97,"v":13.7},{"s":"1987","d":99,"v":15.7},{"s":"1987","d":100,"v":17.3},{"s":"1987","d":101,"v":17.9},{"s":"1987","d":103,"v":17.3},{"s":"1987","d":105,"v":18.9},{"s":"1987","d":106,"v":19.7},{"s":"1987","d":108,"v":19.1},{"s":"1987","d":109,"v":20.4},{"s":"1987","d":110,"v":20.7},{"s":"1987","d":112,"v":21.5},{"s":"1987","d":113,"v":22.6},{"s":"1987","d":114,"v":23.7},{"s":"1987","d":116,"v":24},{"s":"1987","d":118,"v":25.6},{"s":"1987","d":120,"v":24.5},{"s":"1987","d":121,"v":25.3},{"s":"1987","d":123,"v":24.7},{"s":"1987","d":125,"v":22.9},{"s":"1987","d":126,"v":24},{"s":"1987","d":127,"v":23.8},{"s":"1987","d":128,"v":24.9},{"s":"1987","d":130,"v":25},{"s":"1987","d":132,"v":24.7},{"s":"1987","d":133,"v":24.9},{"s":"1987","d":134,"v":26},{"s":"1987","d":136,"v":27.1},{"s":"1987","d":138,"v":24.5},{"s":"1987","d":140,"v":24.3},{"s":"1987","d":142,"v":25.6},{"s":"1987","d":144,"v":27.6},{"s":"1987","d":145,"v":28.6},{"s":"1987","d":146,"v":29.2},{"s":"1987","d":148,"v":28.3},{"s":"1987","d":150,"v":30.9},{"s":"1987","d":151,"v":31.1},{"s":"1987","d":153,"v":35.2},{"s":"1987","d":154,"v":34.7},{"s":"1987","d":155,"v":35.8},{"s":"1987","d":158,"v":35.5},{"s":"1987","d":159,"v":33.5},{"s":"1987","d":160,"v":33.8},{"s":"1987","d":161,"v":35.9},{"s":"1987","d":162,"v":36.3},{"s":"1987","d":163,"v":35.3},{"s":"1987","d":164,"v":36.7},{"s":"1987","d":165,"v":35},{"s":"1987","d":167,"v":32.6},{"s":"1987","d":168,"v":33.8},{"s":"1987","d":169,"v":31},{"s":"1987","d":171,"v":29.9},{"s":"1987","d":173,"v":27.2},{"s":"1987","d":174,"v":27.3},{"s":"1987","d":176,"v":30.8},{"s":"1987","d":177,"v":31.1},{"s":"1987","d":178,"v":27.8},{"s":"1987","d":180,"v":27.7},{"s":"1987","d":182,"v":25.9},{"s":"1987","d":183,"v":29.6},{"s":"1987","d":184,"v":30.3},{"s":"1987","d":185,"v":29.6},{"s":"1987","d":187,"v":31.1},{"s":"1987","d":188,"v":30.4},{"s":"1987","d":189,"v":30.6},{"s":"1987","d":190,"v":32.8},{"s":"1987","d":192,"v":33.1},{"s":"1987","d":193,"v":29.5},{"s":"1987","d":194,"v":29.2},{"s":"1987","d":196,"v":26.1},{"s":"1987","d":197,"v":27.5},{"s":"1987","d":200,"v":16.2},{"s":"1987","d":201,"v":10.7},{"s":"1987","d":202,"v":-8.8},{"s":"1987","d":203,"v":4.6},{"s":"1987","d":204,"v":0.8},{"s":"1987","d":206,"v":0.5},{"s":"1987","d":207,"v":-7.7},{"s":"1987","d":208,"v":-5.4},{"s":"1987","d":209,"v":-5.3},{"s":"1987","d":210,"v":1.9},{"s":"1987","d":211,"v":3.4},{"s":"1987","d":212,"v":1.9},{"s":"1987","d":214,"v":1},{"s":"1987","d":215,"v":3.1},{"s":"1987","d":216,"v":0.3},{"s":"1987","d":218,"v":-3},{"s":"1987","d":219,"v":-2},{"s":"1987","d":220,"v":0.7},{"s":"1987","d":221,"v":0},{"s":"1987","d":223,"v":-1.4},{"s":"1987","d":224,"v":-0.5},{"s":"1987","d":225,"v":-2.6},{"s":"1987","d":227,"v":-1},{"s":"1987","d":228,"v":-0.8},{"s":"1987","d":230,"v":-2.6},{"s":"1987","d":231,"v":-6.5},{"s":"1987","d":233,"v":-5.3},{"s":"1987","d":234,"v":-8.6},{"s":"1987","d":235,"v":-9.2},{"s":"1987","d":236,"v":-5.3},{"s":"1987","d":238,"v":-3.2},{"s":"1987","d":239,"v":-5.3},{"s":"1987","d":240,"v":-4.4},{"s":"1987","d":241,"v":-1.8},{"s":"1987","d":243,"v":0.5},{"s":"1987","d":244,"v":-1.4},{"s":"1987","d":245,"v":1},{"s":"1987","d":246,"v":1.4},{"s":"1987","d":247,"v":2.7},{"s":"1987","d":248,"v":2.3},{"s":"1987","d":250,"v":-0.4},{"s":"1987","d":251,"v":-0.8},{"s":"1987","d":252,"v":0.6},
{"s":"1983","d":0,"v":0},{"s":"1983","d":1,"v":1.9},{"s":"1983","d":3,"v":4.9},{"s":"1983","d":5,"v":5.9},{"s":"1983","d":6,"v":5.3},{"s":"1983","d":7,"v":5.9},{"s":"1983","d":9,"v":5.5},{"s":"1983","d":12,"v":4},{"s":"1983","d":16,"v":5.4},{"s":"1983","d":20,"v":6},{"s":"1983","d":24,"v":7.4},{"s":"1983","d":27,"v":7.3},{"s":"1983","d":30,"v":7.5},{"s":"1983","d":34,"v":7.7},{"s":"1983","d":37,"v":8.3},{"s":"1983","d":39,"v":9.5},{"s":"1983","d":41,"v":9.5},{"s":"1983","d":43,"v":11},{"s":"1983","d":45,"v":11},{"s":"1983","d":46,"v":9.5},{"s":"1983","d":48,"v":10.3},{"s":"1983","d":50,"v":9.3},{"s":"1983","d":53,"v":10.8},{"s":"1983","d":55,"v":9.9},{"s":"1983","d":57,"v":10.8},{"s":"1983","d":60,"v":10.3},{"s":"1983","d":64,"v":11.6},{"s":"1983","d":67,"v":13.2},{"s":"1983","d":72,"v":14.7},{"s":"1983","d":75,"v":15.9},{"s":"1983","d":78,"v":17},{"s":"1983","d":82,"v":19.9},{"s":"1983","d":84,"v":18.4},{"s":"1983","d":87,"v":20},{"s":"1983","d":89,"v":20},{"s":"1983","d":91,"v":19},{"s":"1983","d":92,"v":19.2},{"s":"1983","d":93,"v":18.2},{"s":"1983","d":95,"v":18.3},{"s":"1983","d":97,"v":17.3},{"s":"1983","d":99,"v":19.1},{"s":"1983","d":100,"v":20},{"s":"1983","d":102,"v":18.9},{"s":"1983","d":104,"v":17.3},{"s":"1983","d":106,"v":18.7},{"s":"1983","d":107,"v":19.1},{"s":"1983","d":109,"v":17.3},{"s":"1983","d":111,"v":17.3},{"s":"1983","d":112,"v":19.1},{"s":"1983","d":114,"v":20},{"s":"1983","d":116,"v":22.2},{"s":"1983","d":118,"v":22.2},{"s":"1983","d":119,"v":23.5},{"s":"1983","d":121,"v":23.1},{"s":"1983","d":122,"v":21.8},{"s":"1983","d":124,"v":19.8},{"s":"1983","d":126,"v":21.9},{"s":"1983","d":127,"v":20.5},{"s":"1983","d":128,"v":21.7},{"s":"1983","d":130,"v":20.9},{"s":"1983","d":132,"v":21.4},{"s":"1983","d":133,"v":19.9},{"s":"1983","d":134,"v":19.8},{"s":"1983","d":136,"v":18.7},{"s":"1983","d":138,"v":22.3},{"s":"1983","d":140,"v":22.1},{"s":"1983","d":143,"v":23.1},{"s":"1983","d":144,"v":19.9},{"s":"1983","d":147,"v":17.3},{"s":"1983","d":150,"v":17.8},{"s":"1983","d":156,"v":18.1},{"s":"1983","d":158,"v":19.4},{"s":"1983","d":160,"v":18.1},{"s":"1983","d":162,"v":17.3},{"s":"1983","d":166,"v":17.5},{"s":"1983","d":168,"v":18.7},{"s":"1983","d":171,"v":21.2},{"s":"1983","d":173,"v":21.2},{"s":"1983","d":175,"v":19.9},{"s":"1983","d":178,"v":18.9},{"s":"1983","d":181,"v":20.2},{"s":"1983","d":184,"v":22.7},{"s":"1983","d":186,"v":22.9},{"s":"1983","d":189,"v":20.5},{"s":"1983","d":191,"v":20.4},{"s":"1983","d":194,"v":23.1},{"s":"1983","d":196,"v":24.7},{"s":"1983","d":198,"v":22.7},{"s":"1983","d":200,"v":23},{"s":"1983","d":202,"v":21},{"s":"1983","d":204,"v":20.2},{"s":"1983","d":206,"v":20},{"s":"1983","d":209,"v":18.1},{"s":"1983","d":212,"v":19.1},{"s":"1983","d":215,"v":17.3},{"s":"1983","d":219,"v":19.1},{"s":"1983","d":221,"v":20.4},{"s":"1983","d":223,"v":19.6},{"s":"1983","d":224,"v":20},{"s":"1983","d":227,"v":20.4},{"s":"1983","d":229,"v":20.6},{"s":"1983","d":230,"v":21.2},{"s":"1983","d":232,"v":20.2},{"s":"1983","d":235,"v":20.2},{"s":"1983","d":237,"v":19.4},{"s":"1983","d":239,"v":19.4},{"s":"1983","d":242,"v":18.3},{"s":"1983","d":243,"v":16.9},{"s":"1983","d":248,"v":17.9},{"s":"1983","d":252,"v":19.1},
{"s":"1979","d":0,"v":0},{"s":"1979","d":5,"v":3},{"s":"1979","d":10,"v":2.8},{"s":"1979","d":16,"v":3.7},{"s":"1979","d":19,"v":4.3},{"s":"1979","d":22,"v":3.2},{"s":"1979","d":23,"v":2.3},{"s":"1979","d":24,"v":1.3},{"s":"1979","d":26,"v":0.8},{"s":"1979","d":29,"v":1.8},{"s":"1979","d":32,"v":2.2},{"s":"1979","d":34,"v":2.7},{"s":"1979","d":37,"v":0.8},{"s":"1979","d":38,"v":-0.2},{"s":"1979","d":40,"v":-0.5},{"s":"1979","d":43,"v":1.6},{"s":"1979","d":46,"v":3},{"s":"1979","d":49,"v":3.2},{"s":"1979","d":56,"v":4.8},{"s":"1979","d":59,"v":5.9},{"s":"1979","d":63,"v":4.7},{"s":"1979","d":65,"v":6},{"s":"1979","d":68,"v":6.7},{"s":"1979","d":71,"v":5.1},{"s":"1979","d":74,"v":5.1},{"s":"1979","d":79,"v":5.9},{"s":"1979","d":81,"v":5.2},{"s":"1979","d":86,"v":5},{"s":"1979","d":87,"v":2.7},{"s":"1979","d":91,"v":1.6},{"s":"1979","d":94,"v":1.6},{"s":"1979","d":96,"v":3.2},{"s":"1979","d":98,"v":3.7},{"s":"1979","d":100,"v":3.5},{"s":"1979","d":103,"v":2.7},{"s":"1979","d":105,"v":2.4},{"s":"1979","d":107,"v":4.3},{"s":"1979","d":110,"v":4.9},{"s":"1979","d":112,"v":6.1},{"s":"1979","d":117,"v":5.1},{"s":"1979","d":120,"v":6},{"s":"1979","d":123,"v":5.3},{"s":"1979","d":125,"v":6.3},{"s":"1979","d":128,"v":5.3},{"s":"1979","d":130,"v":8},{"s":"1979","d":132,"v":7.5},{"s":"1979","d":135,"v":5.9},{"s":"1979","d":138,"v":5.1},{"s":"1979","d":141,"v":5.1},{"s":"1979","d":142,"v":6.7},{"s":"1979","d":145,"v":6.5},{"s":"1979","d":147,"v":7.7},{"s":"1979","d":150,"v":7.7},{"s":"1979","d":152,"v":9.4},{"s":"1979","d":155,"v":10.9},{"s":"1979","d":157,"v":11.8},{"s":"1979","d":160,"v":12.2},{"s":"1979","d":163,"v":12.4},{"s":"1979","d":165,"v":12.3},{"s":"1979","d":170,"v":12.9},{"s":"1979","d":171,"v":10.1},{"s":"1979","d":174,"v":11.5},{"s":"1979","d":178,"v":12.3},{"s":"1979","d":181,"v":12},{"s":"1979","d":183,"v":14.1},{"s":"1979","d":188,"v":12.5},{"s":"1979","d":191,"v":13.5},{"s":"1979","d":193,"v":14.3},{"s":"1979","d":195,"v":10.6},{"s":"1979","d":197,"v":9.9},{"s":"1979","d":200,"v":7},{"s":"1979","d":202,"v":7.1},{"s":"1979","d":204,"v":5.3},{"s":"1979","d":206,"v":3.6},{"s":"1979","d":208,"v":4},{"s":"1979","d":211,"v":6.1},{"s":"1979","d":212,"v":5.3},{"s":"1979","d":213,"v":6.1},{"s":"1979","d":216,"v":4.3},{"s":"1979","d":218,"v":3.7},{"s":"1979","d":219,"v":6.9},{"s":"1979","d":220,"v":6.4},{"s":"1979","d":222,"v":7.6},{"s":"1979","d":226,"v":7.2},{"s":"1979","d":228,"v":8.8},{"s":"1979","d":229,"v":10.1},{"s":"1979","d":232,"v":10.4},{"s":"1979","d":234,"v":9.3},{"s":"1979","d":237,"v":11.5},{"s":"1979","d":238,"v":11},{"s":"1979","d":241,"v":11.1},{"s":"1979","d":243,"v":12.9},{"s":"1979","d":245,"v":11.9},{"s":"1979","d":247,"v":11.9},{"s":"1979","d":248,"v":11.1},{"s":"1979","d":252,"v":11.5},
{"s":"1975","d":0,"v":0},{"s":"1975","d":4,"v":2},{"s":"1975","d":8,"v":3.5},{"s":"1975","d":12,"v":4.4},{"s":"1975","d":16,"v":6},{"s":"1975","d":19,"v":9.9},{"s":"1975","d":21,"v":9.6},{"s":"1975","d":22,"v":10.7},{"s":"1975","d":23,"v":10.6},{"s":"1975","d":24,"v":12.4},{"s":"1975","d":25,"v":11.9},{"s":"1975","d":27,"v":11.6},{"s":"1975","d":28,"v":12.8},{"s":"1975","d":30,"v":15.5},{"s":"1975","d":31,"v":16},{"s":"1975","d":32,"v":15.2},{"s":"1975","d":35,"v":17.6},{"s":"1975","d":37,"v":13.2},{"s":"1975","d":40,"v":15.9},{"s":"1975","d":41,"v":18.3},{"s":"1975","d":42,"v":18.9},{"s":"1975","d":43,"v":18.1},{"s":"1975","d":46,"v":20.9},{"s":"1975","d":48,"v":19},{"s":"1975","d":49,"v":19.5},{"s":"1975","d":51,"v":22.5},{"s":"1975","d":53,"v":20},{"s":"1975","d":55,"v":18.8},{"s":"1975","d":56,"v":16},{"s":"1975","d":58,"v":19.1},{"s":"1975","d":59,"v":19.4},{"s":"1975","d":62,"v":17.5},{"s":"1975","d":65,"v":14.7},{"s":"1975","d":67,"v":17.5},{"s":"1975","d":69,"v":19.7},{"s":"1975","d":70,"v":21.9},{"s":"1975","d":71,"v":22.9},{"s":"1975","d":72,"v":23.2},{"s":"1975","d":73,"v":24.2},{"s":"1975","d":74,"v":22.8},{"s":"1975","d":75,"v":24.2},{"s":"1975","d":76,"v":23.9},{"s":"1975","d":77,"v":22.6},{"s":"1975","d":78,"v":22.6},{"s":"1975","d":79,"v":23.3},{"s":"1975","d":81,"v":21.9},{"s":"1975","d":82,"v":24.5},{"s":"1975","d":85,"v":28.2},{"s":"1975","d":87,"v":26.2},{"s":"1975","d":89,"v":27.4},{"s":"1975","d":90,"v":29},{"s":"1975","d":92,"v":31.3},{"s":"1975","d":94,"v":28.7},{"s":"1975","d":95,"v":28.8},{"s":"1975","d":97,"v":26.7},{"s":"1975","d":98,"v":27.3},{"s":"1975","d":99,"v":29},{"s":"1975","d":101,"v":28.5},{"s":"1975","d":102,"v":27.7},{"s":"1975","d":103,"v":27.6},{"s":"1975","d":104,"v":31.8},{"s":"1975","d":105,"v":32.2},{"s":"1975","d":106,"v":31.8},{"s":"1975","d":108,"v":31.8},{"s":"1975","d":110,"v":28.7},{"s":"1975","d":111,"v":28.8},{"s":"1975","d":112,"v":28.2},{"s":"1975","d":113,"v":28.8},{"s":"1975","d":114,"v":30.2},{"s":"1975","d":115,"v":29},{"s":"1975","d":116,"v":28.6},{"s":"1975","d":117,"v":31},{"s":"1975","d":118,"v":31.8},{"s":"1975","d":119,"v":33.2},{"s":"1975","d":121,"v":34.7},{"s":"1975","d":123,"v":35},{"s":"1975","d":124,"v":35},{"s":"1975","d":125,"v":35.4},{"s":"1975","d":127,"v":34},{"s":"1975","d":128,"v":34.2},{"s":"1975","d":129,"v":33.1},{"s":"1975","d":130,"v":33},{"s":"1975","d":131,"v":35},{"s":"1975","d":132,"v":34.8},{"s":"1975","d":134,"v":34.8},{"s":"1975","d":136,"v":36.1},{"s":"1975","d":138,"v":33.2},{"s":"1975","d":139,"v":31.2},{"s":"1975","d":140,"v":28.5},{"s":"1975","d":141,"v":28.4},{"s":"1975","d":144,"v":25.5},{"s":"1975","d":145,"v":26.5},{"s":"1975","d":147,"v":25.8},{"s":"1975","d":149,"v":22.8},{"s":"1975","d":151,"v":22.8},{"s":"1975","d":153,"v":22.5},{"s":"1975","d":155,"v":24},{"s":"1975","d":157,"v":21.8},{"s":"1975","d":158,"v":22.9},{"s":"1975","d":159,"v":22.7},{"s":"1975","d":160,"v":20.2},{"s":"1975","d":161,"v":18.2},{"s":"1975","d":162,"v":19.7},{"s":"1975","d":163,"v":21.1},{"s":"1975","d":165,"v":19.5},{"s":"1975","d":166,"v":23.1},{"s":"1975","d":167,"v":23.7},{"s":"1975","d":169,"v":22},{"s":"1975","d":170,"v":22.7},{"s":"1975","d":172,"v":21.9},{"s":"1975","d":173,"v":22.2},{"s":"1975","d":174,"v":20.2},{"s":"1975","d":176,"v":18.9},{"s":"1975","d":178,"v":17.4},{"s":"1975","d":180,"v":17.4},{"s":"1975","d":181,"v":22.2},{"s":"1975","d":183,"v":21},{"s":"1975","d":186,"v":22.6},{"s":"1975","d":188,"v":19.9},{"s":"1975","d":190,"v":18.8},{"s":"1975","d":192,"v":23.7},{"s":"1975","d":194,"v":23.5},{"s":"1975","d":195,"v":25.4},{"s":"1975","d":197,"v":25.5},{"s":"1975","d":198,"v":27.4},{"s":"1975","d":201,"v":27.1},{"s":"1975","d":203,"v":26.4},{"s":"1975","d":205,"v":28.8},{"s":"1975","d":206,"v":29.9},{"s":"1975","d":207,"v":27.8},{"s":"1975","d":208,"v":27.6},{"s":"1975","d":209,"v":28.8},{"s":"1975","d":210,"v":27.3},{"s":"1975","d":212,"v":26.7},{"s":"1975","d":213,"v":25.4},{"s":"1975","d":215,"v":27.4},{"s":"1975","d":217,"v":27.4},{"s":"1975","d":219,"v":29.8},{"s":"1975","d":222,"v":29.5},{"s":"1975","d":223,"v":30.2},{"s":"1975","d":225,"v":28.1},{"s":"1975","d":227,"v":27.4},{"s":"1975","d":228,"v":27.7},{"s":"1975","d":229,"v":29.4},{"s":"1975","d":231,"v":29.9},{"s":"1975","d":232,"v":27.9},{"s":"1975","d":234,"v":24.7},{"s":"1975","d":235,"v":25},{"s":"1975","d":236,"v":23.5},{"s":"1975","d":238,"v":25},{"s":"1975","d":240,"v":24.9},{"s":"1975","d":242,"v":25.7},{"s":"1975","d":244,"v":27.3},{"s":"1975","d":246,"v":25.5},{"s":"1975","d":249,"v":28.4},{"s":"1975","d":252,"v":27.8},
{"s":"1967","d":0,"v":0},{"s":"1967","d":6,"v":3.2},{"s":"1967","d":14,"v":5.1},{"s":"1967","d":22,"v":6},{"s":"1967","d":30,"v":7.2},{"s":"1967","d":38,"v":8.2},{"s":"1967","d":46,"v":9.2},{"s":"1967","d":52,"v":9.6},{"s":"1967","d":59,"v":11.7},{"s":"1967","d":65,"v":11.7},{"s":"1967","d":67,"v":9.9},{"s":"1967","d":72,"v":13.3},{"s":"1967","d":74,"v":14.3},{"s":"1967","d":78,"v":15.9},{"s":"1967","d":81,"v":16.7},{"s":"1967","d":84,"v":16.5},{"s":"1967","d":88,"v":15.9},{"s":"1967","d":91,"v":16},{"s":"1967","d":94,"v":15.6},{"s":"1967","d":96,"v":14.3},{"s":"1967","d":99,"v":12.5},{"s":"1967","d":100,"v":13.6},{"s":"1967","d":103,"v":10.8},{"s":"1967","d":108,"v":13.9},{"s":"1967","d":110,"v":14.7},{"s":"1967","d":114,"v":15.2},{"s":"1967","d":117,"v":16.3},{"s":"1967","d":121,"v":16.3},{"s":"1967","d":124,"v":17.9},{"s":"1967","d":130,"v":18.3},{"s":"1967","d":140,"v":19.9},{"s":"1967","d":142,"v":20.5},{"s":"1967","d":144,"v":18.9},{"s":"1967","d":149,"v":18.9},{"s":"1967","d":151,"v":19.1},{"s":"1967","d":154,"v":18.1},{"s":"1967","d":158,"v":17.8},{"s":"1967","d":162,"v":17.5},{"s":"1967","d":170,"v":16},{"s":"1967","d":175,"v":17.9},{"s":"1967","d":180,"v":18},{"s":"1967","d":183,"v":19.9},{"s":"1967","d":186,"v":18.9},{"s":"1967","d":189,"v":20.3},{"s":"1967","d":193,"v":20},{"s":"1967","d":195,"v":21},{"s":"1967","d":198,"v":19.1},{"s":"1967","d":201,"v":18.6},{"s":"1967","d":203,"v":18.6},{"s":"1967","d":206,"v":17.5},{"s":"1967","d":209,"v":18.3},{"s":"1967","d":211,"v":15.9},{"s":"1967","d":213,"v":14.7},{"s":"1967","d":215,"v":13.5},{"s":"1967","d":218,"v":12.5},{"s":"1967","d":223,"v":14.3},{"s":"1967","d":225,"v":15.9},{"s":"1967","d":229,"v":17.5},{"s":"1967","d":232,"v":17.9},{"s":"1967","d":235,"v":18.6},{"s":"1967","d":239,"v":18.1},{"s":"1967","d":241,"v":18.7},{"s":"1967","d":243,"v":17.8},{"s":"1967","d":246,"v":18.3},{"s":"1967","d":248,"v":19.1},{"s":"1967","d":252,"v":19.8},
{"s":"1963","d":0,"v":0},{"s":"1963","d":1,"v":1.9},{"s":"1963","d":4,"v":3.1},{"s":"1963","d":10,"v":4},{"s":"1963","d":19,"v":5.3},{"s":"1963","d":22,"v":6},{"s":"1963","d":28,"v":4.8},{"s":"1963","d":37,"v":4.8},{"s":"1963","d":50,"v":4.9},{"s":"1963","d":54,"v":4.9},{"s":"1963","d":60,"v":6.5},{"s":"1963","d":65,"v":6.8},{"s":"1963","d":68,"v":9.1},{"s":"1963","d":71,"v":9.1},{"s":"1963","d":73,"v":10},{"s":"1963","d":78,"v":11},{"s":"1963","d":82,"v":11},{"s":"1963","d":87,"v":10.9},{"s":"1963","d":90,"v":12.5},{"s":"1963","d":93,"v":12.3},{"s":"1963","d":97,"v":11.8},{"s":"1963","d":102,"v":11.6},{"s":"1963","d":104,"v":12.8},{"s":"1963","d":109,"v":12.4},{"s":"1963","d":112,"v":12.1},{"s":"1963","d":116,"v":11.6},{"s":"1963","d":121,"v":11.9},{"s":"1963","d":123,"v":10.7},{"s":"1963","d":125,"v":10.4},{"s":"1963","d":128,"v":11.9},{"s":"1963","d":131,"v":11.5},{"s":"1963","d":135,"v":9.9},{"s":"1963","d":140,"v":8.4},{"s":"1963","d":144,"v":9.5},{"s":"1963","d":148,"v":10.4},{"s":"1963","d":151,"v":11.9},{"s":"1963","d":154,"v":12.5},{"s":"1963","d":158,"v":13.9},{"s":"1963","d":162,"v":14},{"s":"1963","d":166,"v":15.1},{"s":"1963","d":171,"v":16.3},{"s":"1963","d":174,"v":15.9},{"s":"1963","d":178,"v":16.7},{"s":"1963","d":183,"v":16.8},{"s":"1963","d":186,"v":15.9},{"s":"1963","d":188,"v":14.3},{"s":"1963","d":191,"v":15.9},{"s":"1963","d":195,"v":14.9},{"s":"1963","d":199,"v":15.7},{"s":"1963","d":201,"v":16.7},{"s":"1963","d":204,"v":17},{"s":"1963","d":206,"v":15.9},{"s":"1963","d":209,"v":18.7},{"s":"1963","d":211,"v":17.7},{"s":"1963","d":212,"v":17.9},{"s":"1963","d":214,"v":16.3},{"s":"1963","d":218,"v":17.3},{"s":"1963","d":221,"v":16.5},{"s":"1963","d":222,"v":14.7},{"s":"1963","d":225,"v":15.5},{"s":"1963","d":226,"v":12.5},{"s":"1963","d":227,"v":11},{"s":"1963","d":228,"v":15.5},{"s":"1963","d":230,"v":16.8},{"s":"1963","d":231,"v":17.5},{"s":"1963","d":234,"v":18.3},{"s":"1963","d":239,"v":17.8},{"s":"1963","d":242,"v":19.1},{"s":"1963","d":246,"v":17.7},{"s":"1963","d":250,"v":19},{"s":"1963","d":252,"v":20.3},
{"s":"1959","d":0,"v":0},{"s":"1959","d":3,"v":-1},{"s":"1959","d":5,"v":0.3},{"s":"1959","d":8,"v":0.6},{"s":"1959","d":14,"v":1},{"s":"1959","d":18,"v":0.2},{"s":"1959","d":21,"v":-0.5},{"s":"1959","d":24,"v":2.2},{"s":"1959","d":27,"v":1.8},{"s":"1959","d":40,"v":2},{"s":"1959","d":50,"v":1.5},{"s":"1959","d":56,"v":2.5},{"s":"1959","d":64,"v":1.6},{"s":"1959","d":68,"v":2.3},{"s":"1959","d":70,"v":3.8},{"s":"1959","d":74,"v":4.8},{"s":"1959","d":77,"v":4.3},{"s":"1959","d":80,"v":4},{"s":"1959","d":84,"v":4.2},{"s":"1959","d":87,"v":3.5},{"s":"1959","d":88,"v":4.5},{"s":"1959","d":92,"v":4.5},{"s":"1959","d":96,"v":4.8},{"s":"1959","d":100,"v":4.8},{"s":"1959","d":104,"v":5.9},{"s":"1959","d":107,"v":5.6},{"s":"1959","d":110,"v":2.4},{"s":"1959","d":112,"v":1.6},{"s":"1959","d":115,"v":3.2},{"s":"1959","d":120,"v":2.7},{"s":"1959","d":123,"v":3.2},{"s":"1959","d":127,"v":5.9},{"s":"1959","d":130,"v":8},{"s":"1959","d":132,"v":8.2},{"s":"1959","d":134,"v":7.6},{"s":"1959","d":136,"v":7.4},{"s":"1959","d":139,"v":6.3},{"s":"1959","d":140,"v":7.9},{"s":"1959","d":145,"v":9.1},{"s":"1959","d":148,"v":9.5},{"s":"1959","d":151,"v":8.6},{"s":"1959","d":153,"v":5.6},{"s":"1959","d":155,"v":7.1},{"s":"1959","d":158,"v":6.8},{"s":"1959","d":160,"v":5.1},{"s":"1959","d":162,"v":6.7},{"s":"1959","d":164,"v":6.3},{"s":"1959","d":168,"v":7.5},{"s":"1959","d":170,"v":6.1},{"s":"1959","d":172,"v":5.3},{"s":"1959","d":175,"v":3.5},{"s":"1959","d":177,"v":3.3},{"s":"1959","d":180,"v":2.2},{"s":"1959","d":182,"v":1.4},{"s":"1959","d":183,"v":-0.5},{"s":"1959","d":186,"v":2.3},{"s":"1959","d":188,"v":3.7},{"s":"1959","d":190,"v":2.6},{"s":"1959","d":192,"v":3.2},{"s":"1959","d":196,"v":2.4},{"s":"1959","d":198,"v":3.4},{"s":"1959","d":200,"v":2.3},{"s":"1959","d":201,"v":3.4},{"s":"1959","d":204,"v":2.2},{"s":"1959","d":206,"v":1},{"s":"1959","d":209,"v":3.5},{"s":"1959","d":212,"v":3.6},{"s":"1959","d":215,"v":3.2},{"s":"1959","d":218,"v":3.6},{"s":"1959","d":222,"v":3.5},{"s":"1959","d":224,"v":1.5},{"s":"1959","d":225,"v":2.7},{"s":"1959","d":227,"v":2.7},{"s":"1959","d":230,"v":4.3},{"s":"1959","d":232,"v":5.8},{"s":"1959","d":235,"v":6.1},{"s":"1959","d":238,"v":6.4},{"s":"1959","d":242,"v":6.3},{"s":"1959","d":244,"v":6.1},{"s":"1959","d":246,"v":6},{"s":"1959","d":247,"v":6.7},{"s":"1959","d":250,"v":6.3},{"s":"1959","d":252,"v":7.8},
{"s":"1955","d":0,"v":0},{"s":"1955","d":5,"v":0.5},{"s":"1955","d":10,"v":0.5},{"s":"1955","d":15,"v":0.3},{"s":"1955","d":17,"v":-1.8},{"s":"1955","d":19,"v":-2.1},{"s":"1955","d":20,"v":-1.8},{"s":"1955","d":22,"v":-0.2},{"s":"1955","d":23,"v":0.2},{"s":"1955","d":25,"v":-0.8},{"s":"1955","d":27,"v":0.9},{"s":"1955","d":29,"v":0.2},{"s":"1955","d":33,"v":0.3},{"s":"1955","d":38,"v":-0.6},{"s":"1955","d":40,"v":0},{"s":"1955","d":43,"v":1.9},{"s":"1955","d":45,"v":0.3},{"s":"1955","d":47,"v":-1.6},{"s":"1955","d":49,"v":-4.8},{"s":"1955","d":54,"v":-1.6},{"s":"1955","d":55,"v":-0.5},{"s":"1955","d":57,"v":0.6},{"s":"1955","d":61,"v":0},{"s":"1955","d":64,"v":0.3},{"s":"1955","d":67,"v":2},{"s":"1955","d":73,"v":4.3},{"s":"1955","d":76,"v":4.3},{"s":"1955","d":79,"v":3.2},{"s":"1955","d":81,"v":3.7},{"s":"1955","d":83,"v":2.4},{"s":"1955","d":85,"v":2.5},{"s":"1955","d":88,"v":3.1},{"s":"1955","d":91,"v":1.2},{"s":"1955","d":93,"v":0.7},{"s":"1955","d":96,"v":1.9},{"s":"1955","d":102,"v":2.4},{"s":"1955","d":104,"v":4.5},{"s":"1955","d":106,"v":6.7},{"s":"1955","d":108,"v":8.7},{"s":"1955","d":109,"v":7.7},{"s":"1955","d":111,"v":6.1},{"s":"1955","d":113,"v":7.8},{"s":"1955","d":116,"v":8.7},{"s":"1955","d":118,"v":10},{"s":"1955","d":122,"v":11.4},{"s":"1955","d":124,"v":10.9},{"s":"1955","d":127,"v":12.7},{"s":"1955","d":128,"v":16.2},{"s":"1955","d":133,"v":14.9},{"s":"1955","d":135,"v":15.5},{"s":"1955","d":138,"v":14.9},{"s":"1955","d":141,"v":16.9},{"s":"1955","d":144,"v":16.5},{"s":"1955","d":148,"v":15.5},{"s":"1955","d":151,"v":14.1},{"s":"1955","d":155,"v":13.7},{"s":"1955","d":159,"v":13.9},{"s":"1955","d":163,"v":14.4},{"s":"1955","d":170,"v":18.4},{"s":"1955","d":171,"v":19.2},{"s":"1955","d":175,"v":19.4},{"s":"1955","d":176,"v":20.6},{"s":"1955","d":177,"v":22.2},{"s":"1955","d":178,"v":21.7},{"s":"1955","d":180,"v":22.7},{"s":"1955","d":182,"v":23.3},{"s":"1955","d":184,"v":24.1},{"s":"1955","d":185,"v":17.3},{"s":"1955","d":187,"v":20.5},{"s":"1955","d":190,"v":18.9},{"s":"1955","d":192,"v":17.3},{"s":"1955","d":193,"v":16.5},{"s":"1955","d":195,"v":11.5},{"s":"1955","d":197,"v":12.7},{"s":"1955","d":199,"v":12.3},{"s":"1955","d":201,"v":12.7},{"s":"1955","d":203,"v":15.7},{"s":"1955","d":205,"v":16.7},{"s":"1955","d":207,"v":15.1},{"s":"1955","d":211,"v":15.1},{"s":"1955","d":213,"v":16.3},{"s":"1955","d":214,"v":19.1},{"s":"1955","d":217,"v":21.3},{"s":"1955","d":218,"v":23.1},{"s":"1955","d":220,"v":26.2},{"s":"1955","d":222,"v":24.2},{"s":"1955","d":225,"v":23.1},{"s":"1955","d":226,"v":24.2},{"s":"1955","d":227,"v":24.5},{"s":"1955","d":229,"v":23.5},{"s":"1955","d":230,"v":23.9},{"s":"1955","d":232,"v":23.4},{"s":"1955","d":234,"v":24.3},{"s":"1955","d":236,"v":24.1},{"s":"1955","d":238,"v":24.7},{"s":"1955","d":239,"v":23.5},{"s":"1955","d":242,"v":22.7},{"s":"1955","d":245,"v":22.3},{"s":"1955","d":246,"v":24.5},{"s":"1955","d":248,"v":23.8},{"s":"1955","d":250,"v":22.6},{"s":"1955","d":252,"v":23.7},
{"s":"1951","d":0,"v":0},{"s":"1951","d":4,"v":1},{"s":"1951","d":8,"v":1.6},{"s":"1951","d":14,"v":2.4},{"s":"1951","d":19,"v":4.5},{"s":"1951","d":23,"v":6.7},{"s":"1951","d":30,"v":6.5},{"s":"1951","d":50,"v":6.1},{"s":"1951","d":51,"v":7},{"s":"1951","d":53,"v":4.8},{"s":"1951","d":59,"v":2.4},{"s":"1951","d":61,"v":3.2},{"s":"1951","d":63,"v":2.4},{"s":"1951","d":65,"v":4.6},{"s":"1951","d":67,"v":4.3},{"s":"1951","d":69,"v":6.4},{"s":"1951","d":72,"v":6.4},{"s":"1951","d":75,"v":6.2},{"s":"1951","d":78,"v":5.9},{"s":"1951","d":84,"v":9.6},{"s":"1951","d":88,"v":8.8},{"s":"1951","d":90,"v":7.8},{"s":"1951","d":92,"v":6.2},{"s":"1951","d":93,"v":4.3},{"s":"1951","d":94,"v":5.3},{"s":"1951","d":96,"v":3.5},{"s":"1951","d":98,"v":3.5},{"s":"1951","d":100,"v":1.4},{"s":"1951","d":104,"v":3.2},{"s":"1951","d":107,"v":3.5},{"s":"1951","d":110,"v":4.3},{"s":"1951","d":111,"v":3.7},{"s":"1951","d":114,"v":6.1},{"s":"1951","d":117,"v":5.6},{"s":"1951","d":118,"v":4.8},{"s":"1951","d":121,"v":2.4},{"s":"1951","d":124,"v":1.4},{"s":"1951","d":128,"v":4.3},{"s":"1951","d":131,"v":4},{"s":"1951","d":134,"v":5},{"s":"1951","d":137,"v":5.2},{"s":"1951","d":138,"v":8},{"s":"1951","d":141,"v":7.6},{"s":"1951","d":144,"v":8.8},{"s":"1951","d":148,"v":9.9},{"s":"1951","d":150,"v":10.9},{"s":"1951","d":154,"v":9.6},{"s":"1951","d":159,"v":10.4},{"s":"1951","d":161,"v":10.3},{"s":"1951","d":164,"v":10.2},{"s":"1951","d":168,"v":11.7},{"s":"1951","d":170,"v":12.5},{"s":"1951","d":174,"v":13.7},{"s":"1951","d":176,"v":14.1},{"s":"1951","d":180,"v":13.5},{"s":"1951","d":184,"v":12.3},{"s":"1951","d":188,"v":12.1},{"s":"1951","d":190,"v":14.3},{"s":"1951","d":193,"v":14.3},{"s":"1951","d":196,"v":13.8},{"s":"1951","d":198,"v":14.7},{"s":"1951","d":201,"v":13.1},{"s":"1951","d":202,"v":9.6},{"s":"1951","d":205,"v":10.7},{"s":"1951","d":210,"v":11.5},{"s":"1951","d":214,"v":8.3},{"s":"1951","d":215,"v":9.6},{"s":"1951","d":218,"v":10},{"s":"1951","d":222,"v":9.4},{"s":"1951","d":224,"v":8.3},{"s":"1951","d":226,"v":9.5},{"s":"1951","d":228,"v":9.5},{"s":"1951","d":229,"v":10.7},{"s":"1951","d":232,"v":11.7},{"s":"1951","d":233,"v":12.6},{"s":"1951","d":236,"v":12.4},{"s":"1951","d":239,"v":12.7},{"s":"1951","d":243,"v":13.5},{"s":"1951","d":247,"v":13.5},{"s":"1951","d":249,"v":15},{"s":"1951","d":252,"v":15.1}
],
"red":[{"s":"2023","d":0,"v":0},{"s":"2023","d":1,"v":0.8},{"s":"2023","d":2,"v":-0.5},{"s":"2023","d":3,"v":1.6},{"s":"2023","d":4,"v":1.9},{"s":"2023","d":6,"v":3.6},{"s":"2023","d":8,"v":4.7},{"s":"2023","d":10,"v":3.7},{"s":"2023","d":11,"v":1.9},{"s":"2023","d":13,"v":5.1},{"s":"2023","d":15,"v":5.1},{"s":"2023","d":17,"v":6.4},{"s":"2023","d":18,"v":4.9},{"s":"2023","d":21,"v":9.1},{"s":"2023","d":23,"v":7.8},{"s":"2023","d":24,"v":7.4},{"s":"2023","d":25,"v":8.8},{"s":"2023","d":27,"v":6.7},{"s":"2023","d":29,"v":8.3},{"s":"2023","d":31,"v":8.4},{"s":"2023","d":33,"v":7},{"s":"2023","d":34,"v":4.6},{"s":"2023","d":36,"v":4.8},{"s":"2023","d":37,"v":3.9},{"s":"2023","d":38,"v":4.2},{"s":"2023","d":40,"v":3.2},{"s":"2023","d":43,"v":5.9},{"s":"2023","d":44,"v":5.5},{"s":"2023","d":46,"v":1.6},{"s":"2023","d":48,"v":0.7},{"s":"2023","d":49,"v":2.7},{"s":"2023","d":50,"v":1.6},{"s":"2023","d":51,"v":3.6},{"s":"2023","d":52,"v":2.3},{"s":"2023","d":54,"v":4.7},{"s":"2023","d":55,"v":4.7},{"s":"2023","d":56,"v":3},{"s":"2023","d":59,"v":3.9},{"s":"2023","d":61,"v":3.9},{"s":"2023","d":62,"v":6.7},{"s":"2023","d":65,"v":7.5},{"s":"2023","d":66,"v":7.4},{"s":"2023","d":68,"v":7.5},{"s":"2023","d":70,"v":7},{"s":"2023","d":71,"v":8.4},{"s":"2023","d":74,"v":8.7},{"s":"2023","d":76,"v":8},{"s":"2023","d":78,"v":8.2},{"s":"2023","d":80,"v":6},{"s":"2023","d":82,"v":9},{"s":"2023","d":84,"v":8.9},{"s":"2023","d":86,"v":6.2},{"s":"2023","d":87,"v":8.2},{"s":"2023","d":89,"v":7.8},{"s":"2023","d":91,"v":8.3},{"s":"2023","d":95,"v":7.5},{"s":"2023","d":97,"v":9.6},{"s":"2023","d":99,"v":9.5},{"s":"2023","d":101,"v":7.6},{"s":"2023","d":104,"v":10},{"s":"2023","d":106,"v":9.5},{"s":"2023","d":107,"v":11.9},{"s":"2023","d":110,"v":11.6},{"s":"2023","d":113,"v":12.7},{"s":"2023","d":114,"v":14.1},{"s":"2023","d":116,"v":15.7},{"s":"2023","d":118,"v":14.7},{"s":"2023","d":120,"v":14.5},{"s":"2023","d":122,"v":13.2},{"s":"2023","d":123,"v":14.5},{"s":"2023","d":125,"v":14.5},{"s":"2023","d":127,"v":16.5},{"s":"2023","d":129,"v":16.2},{"s":"2023","d":131,"v":14.9},{"s":"2023","d":133,"v":15.9},{"s":"2023","d":134,"v":17.8},{"s":"2023","d":138,"v":19.3},{"s":"2023","d":140,"v":18.7},{"s":"2023","d":143,"v":19.4},{"s":"2023","d":144,"v":18.9},{"s":"2023","d":146,"v":19.9},{"s":"2023","d":147,"v":19.8},{"s":"2023","d":149,"v":17.8},{"s":"2023","d":151,"v":18.2},{"s":"2023","d":153,"v":17.4},{"s":"2023","d":155,"v":16.9},{"s":"2023","d":157,"v":16.9},{"s":"2023","d":161,"v":14.5},{"s":"2023","d":163,"v":15.1},{"s":"2023","d":164,"v":16.1},{"s":"2023","d":166,"v":14.5},{"s":"2023","d":168,"v":17.2},{"s":"2023","d":171,"v":18},{"s":"2023","d":172,"v":17.5},{"s":"2023","d":175,"v":17.1},{"s":"2023","d":176,"v":17.3},{"s":"2023","d":179,"v":17.3},{"s":"2023","d":180,"v":16},{"s":"2023","d":183,"v":15.6},{"s":"2023","d":184,"v":13},{"s":"2023","d":186,"v":13.1},{"s":"2023","d":187,"v":11.8},{"s":"2023","d":189,"v":12.3},{"s":"2023","d":192,"v":12.2},{"s":"2023","d":193,"v":10.4},{"s":"2023","d":195,"v":11.3},{"s":"2023","d":197,"v":12.7},{"s":"2023","d":199,"v":14.1},{"s":"2023","d":200,"v":13.7},{"s":"2023","d":203,"v":14},{"s":"2023","d":205,"v":13.3},{"s":"2023","d":206,"v":10.4},{"s":"2023","d":208,"v":11},{"s":"2023","d":209,"v":9.9},{"s":"2023","d":211,"v":8},{"s":"2023","d":213,"v":7.5},{"s":"2023","d":215,"v":10.2},{"s":"2023","d":217,"v":10.7},{"s":"2023","d":219,"v":13.5},{"s":"2023","d":220,"v":13.9},{"s":"2023","d":223,"v":13.5},{"s":"2023","d":224,"v":15.3},{"s":"2023","d":225,"v":15.5},{"s":"2023","d":226,"v":17.6},{"s":"2023","d":229,"v":18.5},{"s":"2023","d":231,"v":19.1},{"s":"2023","d":232,"v":19.1},{"s":"2023","d":235,"v":19},{"s":"2023","d":237,"v":20.1},{"s":"2023","d":239,"v":18.9},{"s":"2023","d":241,"v":21},{"s":"2023","d":243,"v":23.2},{"s":"2023","d":245,"v":24},{"s":"2023","d":246,"v":24.8},{"s":"2023","d":248,"v":22.9},{"s":"2023","d":249,"v":24.1},{"s":"2023","d":250,"v":25},{"s":"2023","d":252,"v":25.1},{"s":"2023","d":253,"v":24.7}]
},
"layer":[
{"data":{"name":"zero"},"mark":{"type":"rule","color":"#000000","strokeWidth":5},"encoding":{"x":{"field":"a","type":"quantitative","scale":{"domain":[-2.976,265.28],"nice":false,"zero":false},"axis":null},"x2":{"field":"b"},"y":{"field":"z","type":"quantitative","scale":{"domain":[-24.78,41.195],"nice":false,"zero":false},"axis":{"orient":"right","values":[-20,-10,0,10,20,30,40],"title":null,"grid":false,"domain":false,"ticks":false,"labelAlign":"center","labelPadding":-15,"labelFont":"Noto Sans","labelFontWeight":"bold","labelFontSize":14,"labelColor":"#111111"}}}},
{"data":{"name":"years"},"mark":{"type":"line","strokeWidth":4.2,"strokeJoin":"round","clip":true},"encoding":{"x":{"field":"d","type":"quantitative"},"y":{"field":"v","type":"quantitative"},"color":{"field":"s","type":"nominal","sort":null,"scale":{"domain":["2019","2015","2011","2007","2003","1999","1995","1991","1987","1983","1979","1975","1971","1967","1963","1959","1955","1951"],"range":["#A5A5A5","#4472C4","#FFC000","#5B9BD5","#70AD47","#264478","#9E480E","#636363","#997300","#255E91","#43682B","#698ED0","#F1975A","#B7B7B7","#FFCD33","#7CAFDD","#8CC168","#335AA1"]},"legend":{"values":["2019","2003","1987","2015","1999","1983","2011","1995","1979","2007","1991","1975"],"title":null,"orient":"none","legendX":77,"legendY":797,"columns":4,"direction":"vertical","symbolType":"stroke","symbolSize":1296,"symbolStrokeWidth":3,"labelFont":"Noto Sans","labelFontWeight":"bold","labelFontSize":7,"labelColor":"#111111","clipHeight":10,"rowPadding":0,"columnPadding":250,"labelOffset":3,"padding":0}}}},
{"data":{"name":"red"},"mark":{"type":"line","color":"#FF0000","strokeWidth":9,"strokeJoin":"round"},"encoding":{"x":{"field":"d","type":"quantitative"},"y":{"field":"v","type":"quantitative"}}},
{"data":{"name":"months"},"mark":{"type":"text","font":"Noto Sans","fontWeight":"bold","fontSize":14,"color":"#111111","baseline":"middle"},"encoding":{"x":{"field":"d","type":"quantitative"},"y":{"datum":-21.43,"type":"quantitative"},"text":{"field":"m"}}},
{"data":{"name":"logoText"},"mark":{"type":"text","font":"Inter","fontWeight":"bold","fontSize":19,"color":"#17375E","baseline":"alphabetic"},"encoding":{"x":{"field":"d","type":"quantitative"},"y":{"field":"v","type":"quantitative"},"text":{"field":"t"}}},
{"data":{"name":"stars"},"mark":{"type":"point","filled":true,"color":"#E4123C","opacity":1,"size":12,"shape":"M0,-1L0.24,-0.31L0.95,-0.31L0.38,0.12L0.59,0.81L0,0.4L-0.59,0.81L-0.38,0.12L-0.95,-0.31L-0.24,-0.31Z"},"encoding":{"x":{"field":"d","type":"quantitative"},"y":{"field":"v","type":"quantitative"}}},
{"data":{"name":"bigStar"},"mark":{"type":"point","filled":true,"color":"#E4123C","opacity":1,"size":55,"shape":"M0,-1L0.24,-0.31L0.95,-0.31L0.38,0.12L0.59,0.81L0,0.4L-0.59,0.81L-0.38,0.12L-0.95,-0.31L-0.24,-0.31Z"},"encoding":{"x":{"field":"d","type":"quantitative"},"y":{"field":"v","type":"quantitative"}}}
]}
